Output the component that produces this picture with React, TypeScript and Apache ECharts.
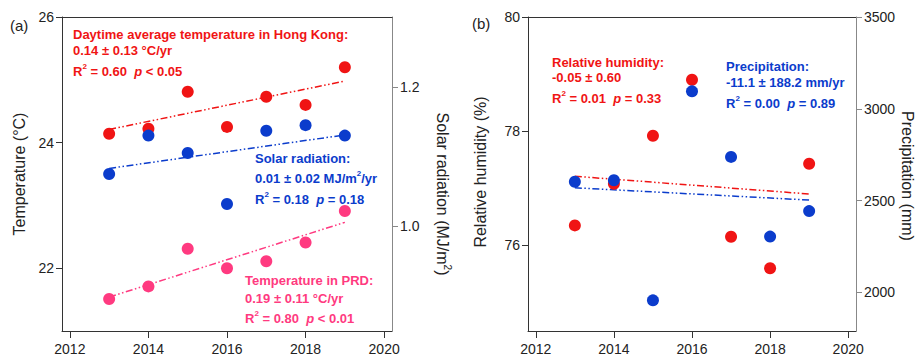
import React, { useEffect, useRef } from 'react';
import * as echarts from 'echarts';

const years = [2013, 2014, 2015, 2016, 2017, 2018, 2019];
const hkTemp = [24.14, 24.22, 24.81, 24.25, 24.73, 24.6, 25.2];
const solarRad = [1.075, 1.13, 1.105, 1.032, 1.137, 1.145, 1.13];
const prdTemp = [21.51, 21.71, 22.31, 22.0, 22.11, 22.41, 22.91];
const relHum = [76.35, 77.08, 77.92, 78.9, 76.15, 75.6, 77.43];
const precip = [2603, 2611, 1957, 3095, 2738, 2304, 2443];

const trendYears = [2013, 2019];
const hkTrend = [24.21, 24.98];
const solarTrend = [1.083, 1.131];
const prdTrend = [21.54, 22.73];
const rhTrend = [77.21, 76.9];
const precipTrend = [2570, 2503];

const xTicks = [2012, 2014, 2016, 2018, 2020];
const tempTicks = [22, 24, 26];
const solarTicks = [1.0, 1.2];
const rhTicks = [76, 78, 80];
const precipTicks = [2000, 2500, 3000, 3500];

const RED = '#f01414';
const BLUE = '#0b3ccc';
const PINK = '#ff3a80';
const FONT = '"Liberation Sans", Arial, sans-serif';
const DASH = [7, 2.5, 1.5, 2.5, 1.5, 2.5];

const pts = (ys: number[]) => years.map((y, i) => [y, ys[i]]);
const trend = (ys: number[]) => trendYears.map((y, i) => [y, ys[i]]);
const plain = (v: number) => String(v);

function richStyles(color: string) {
  return {
    b: { fontFamily: FONT, fontSize: 13, fontWeight: 'bold', fill: color, lineHeight: 15, verticalAlign: 'bottom' },
    i: { fontFamily: FONT, fontSize: 13, fontWeight: 'bold', fontStyle: 'italic', fill: color, lineHeight: 15, verticalAlign: 'bottom' },
    sup: { fontFamily: FONT, fontSize: 8, fontWeight: 'bold', fill: color, lineHeight: 8, verticalAlign: 'top' },
  };
}

function ann(x: number, y: number, text: string, color: string) {
  return {
    type: 'text',
    x,
    y,
    silent: true,
    style: {
      text,
      fill: color,
      fontFamily: FONT,
      fontSize: 13,
      fontWeight: 'bold',
      align: 'left',
      verticalAlign: 'middle',
      textAlign: 'left',
      textVerticalAlign: 'middle',
      rich: richStyles(color),
    },
  };
}

function axisName(x: number, y: number, text: string, rotation: number) {
  return {
    type: 'text',
    x,
    y,
    rotation,
    silent: true,
    style: {
      text,
      fill: '#222',
      fontFamily: FONT,
      fontSize: 16,
      align: 'center',
      verticalAlign: 'middle',
      textAlign: 'center',
      textVerticalAlign: 'middle',
      rich: {
        n: { fontFamily: FONT, fontSize: 16, fill: '#222', lineHeight: 18, verticalAlign: 'bottom' },
        sup: { fontFamily: FONT, fontSize: 10, fill: '#222', lineHeight: 10, verticalAlign: 'top' },
      },
    },
  };
}

function xAxisDef(gridIndex: number) {
  return {
    gridIndex,
    type: 'value',
    min: 2011.8,
    max: 2020.2,
    axisLine: { show: true, onZero: false, lineStyle: { color: '#333', width: 1 } },
    axisTick: { show: true, customValues: xTicks, length: 7, lineStyle: { color: '#333' } },
    axisLabel: { customValues: xTicks, fontSize: 14, color: '#222', fontFamily: FONT, margin: 11, formatter: plain },
    splitLine: { show: false },
  };
}

function topAxisDef(gridIndex: number) {
  return {
    gridIndex,
    type: 'value',
    position: 'top',
    min: 2011.8,
    max: 2020.2,
    axisLine: { show: true, onZero: false, lineStyle: { color: '#333', width: 1 } },
    axisTick: { show: false },
    axisLabel: { show: false },
    splitLine: { show: false },
  };
}

function yAxisDef(gridIndex: number, position: string, min: number, max: number, ticks: number[], color: string, fmt: (v: number) => string) {
  return {
    gridIndex,
    type: 'value',
    position,
    min,
    max,
    axisLine: { show: true, onZero: false, lineStyle: { color, width: 1 } },
    axisTick: { show: true, customValues: ticks, length: 6, lineStyle: { color } },
    axisLabel: { customValues: ticks, fontSize: 14, color: '#222', fontFamily: FONT, margin: 8, formatter: fmt },
    splitLine: { show: false },
  };
}

function scatter(name: string, data: number[], xi: number, yi: number, color: string) {
  return {
    name,
    type: 'scatter',
    xAxisIndex: xi,
    yAxisIndex: yi,
    data: pts(data),
    symbol: 'circle',
    symbolSize: 12,
    itemStyle: { color, opacity: 1 },
    silent: true,
  };
}

function trendLine(name: string, data: number[], xi: number, yi: number, color: string) {
  return {
    name,
    type: 'line',
    xAxisIndex: xi,
    yAxisIndex: yi,
    data: trend(data),
    symbol: 'none',
    lineStyle: { color, width: 1.5, type: DASH },
    silent: true,
    z: 1,
  };
}

export default function App() {
  const ref = useRef<HTMLDivElement>(null);
  useEffect(() => {
    document.body.style.margin = '0';
    if (!ref.current) return;
    const chart = echarts.init(ref.current, null, { renderer: 'svg' });
    chart.setOption({
      animation: false,
      backgroundColor: '#fff',
      grid: [
        { left: 62, top: 17, width: 330, height: 315, containLabel: false },
        { left: 528, top: 17, width: 328, height: 315, containLabel: false },
      ],
      xAxis: [xAxisDef(0), xAxisDef(1), topAxisDef(0), topAxisDef(1)],
      yAxis: [
        yAxisDef(0, 'left', 21, 26, tempTicks, '#333', plain),
        yAxisDef(0, 'right', 0.85, 1.3, solarTicks, '#888', (v: number) => v.toFixed(1)),
        yAxisDef(1, 'left', 74.5, 80, rhTicks, '#333', plain),
        yAxisDef(1, 'right', 1790, 3500, precipTicks, '#888', plain),
      ],
      series: [
        trendLine('HK trend', hkTrend, 0, 0, RED),
        trendLine('Solar trend', solarTrend, 0, 1, BLUE),
        trendLine('PRD trend', prdTrend, 0, 0, PINK),
        scatter('HK temperature', hkTemp, 0, 0, RED),
        scatter('Solar radiation', solarRad, 0, 1, BLUE),
        scatter('PRD temperature', prdTemp, 0, 0, PINK),
        trendLine('RH trend', rhTrend, 1, 2, RED),
        trendLine('Precip trend', precipTrend, 1, 3, BLUE),
        scatter('Relative humidity', relHum, 1, 2, RED),
        scatter('Precipitation', precip, 1, 3, BLUE),
      ],
      graphic: [
        { type: 'text', x: 10, y: 25, silent: true, style: { text: '(a)', fill: '#222', fontFamily: FONT, fontSize: 15, align: 'left', verticalAlign: 'middle', textAlign: 'left', textVerticalAlign: 'middle' } },
        { type: 'text', x: 472, y: 23, silent: true, style: { text: '(b)', fill: '#222', fontFamily: FONT, fontSize: 15, align: 'left', verticalAlign: 'middle', textAlign: 'left', textVerticalAlign: 'middle' } },
        axisName(18, 174, '{n|Temperature (°C)}', Math.PI / 2),
        axisName(443, 194, '{n|Solar radiation (MJ/m}{sup|2}{n|)}', -Math.PI / 2),
        axisName(479, 172, '{n|Relative humidity (%)}', Math.PI / 2),
        axisName(908, 176, '{n|Precipitation (mm)}', -Math.PI / 2),
        ann(73, 33, '{b|Daytime average temperature in Hong Kong:}', RED),
        ann(73, 49, '{b|0.14 ± 0.13 °C/yr}', RED),
        ann(73, 70, '{b|R}{sup|2}{b| = 0.60  }{i|p}{b| < 0.05}', RED),
        ann(255, 157, '{b|Solar radiation:}', BLUE),
        ann(255, 177, '{b|0.01 ± 0.02 MJ/m}{sup|2}{b|/yr}', BLUE),
        ann(255, 198, '{b|R}{sup|2}{b| = 0.18  }{i|p}{b| = 0.18}', BLUE),
        ann(245, 279, '{b|Temperature in PRD:}', PINK),
        ann(245, 297, '{b|0.19 ± 0.11 °C/yr}', PINK),
        ann(245, 317, '{b|R}{sup|2}{b| = 0.80  }{i|p}{b| < 0.01}', PINK),
        ann(552, 61, '{b|Relative humidity:}', RED),
        ann(552, 76, '{b|-0.05 ± 0.60}', RED),
        ann(552, 97, '{b|R}{sup|2}{b| = 0.01  }{i|p}{b| = 0.33}', RED),
        ann(726, 65, '{b|Precipitation:}', BLUE),
        ann(726, 81, '{b|-11.1 ± 188.2 mm/yr}', BLUE),
        ann(726, 102, '{b|R}{sup|2}{b| = 0.00  }{i|p}{b| = 0.89}', BLUE),
      ],
    });
    return () => chart.dispose();
  }, []);
  return <div ref={ref} style={{ width: 919, height: 356 }} />;
}
